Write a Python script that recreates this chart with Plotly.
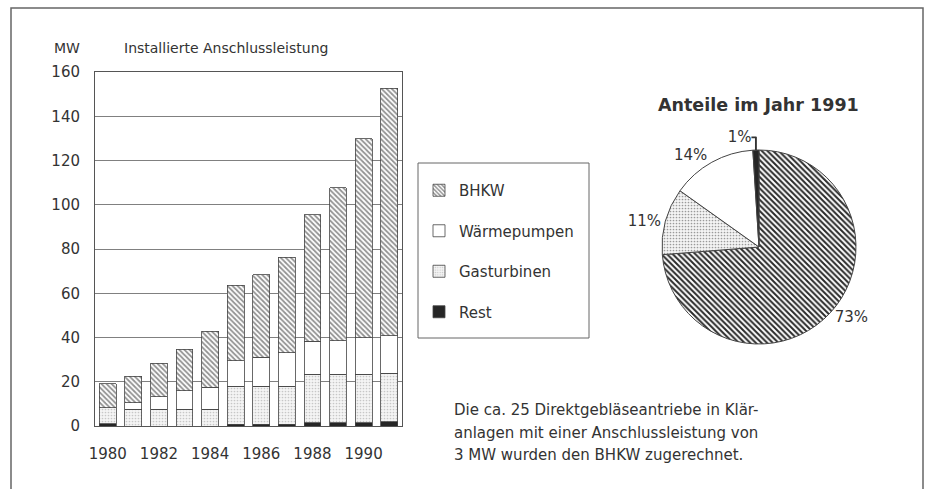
import plotly.graph_objects as go

W, H = 928, 489

years = [1980, 1981, 1982, 1983, 1984, 1985, 1986, 1987, 1988, 1989, 1990, 1991]
rest = [1.0, 0.0, 0.0, 0.0, 0.0, 0.8, 0.8, 0.8, 1.4, 1.4, 1.4, 2.0]
gasturbinen = [7.2, 7.5, 7.5, 7.5, 7.5, 17.2, 17.2, 17.2, 21.9, 21.9, 21.9, 21.8]
waermepumpen = [0.0, 3.0, 5.7, 8.5, 10.0, 11.5, 13.0, 15.0, 15.0, 15.2, 16.5, 17.0]
bhkw = [10.8, 12.1, 15.1, 18.7, 25.4, 34.1, 37.4, 43.2, 57.2, 69.1, 90.1, 111.9]

pie_labels = ["BHKW", "Gasturbinen", "Wärmepumpen", "Rest"]
pie_values = [73, 11, 14, 1]

x_ticks = [1980, 1982, 1984, 1986, 1988, 1990]
y_ticks = [0, 20, 40, 60, 80, 100, 120, 140, 160]

FONT = "DejaVu Sans"
TXT = "#333333"
EDGE = "#444444"
HATCH = dict(shape="\\", fgcolor="#262626", bgcolor="white", size=3.6, solidity=0.5)
DOTS = dict(shape=".", fgcolor="#9a9a9a", bgcolor="#f4f4f4", size=3, solidity=0.25)

def px(x):
    return x / W

def py(y):
    return 1 - y / H

fig = go.Figure()

fig.add_trace(go.Bar(
    x=years, y=rest, name="Rest", legendgroup="g4", legendrank=4,
    marker=dict(color="#262626", line=dict(color=EDGE, width=0.8)),
))
fig.add_trace(go.Bar(
    x=years, y=gasturbinen, name="Gasturbinen", legendgroup="g3", legendrank=3,
    marker=dict(color="#f2f2f2", line=dict(color=EDGE, width=0.8), pattern=DOTS),
))
fig.add_trace(go.Bar(
    x=years, y=waermepumpen, name="Wärmepumpen", legendgroup="g2", legendrank=2,
    marker=dict(color="white", line=dict(color=EDGE, width=0.8)),
))
fig.add_trace(go.Bar(
    x=years, y=bhkw, name="BHKW", legendgroup="g1", legendrank=1,
    marker=dict(color="white", line=dict(color=EDGE, width=0.8), pattern=HATCH),
))

fig.add_trace(go.Pie(
    labels=pie_labels, values=pie_values, sort=False, direction="clockwise", rotation=0,
    texttemplate="%{value}%", textposition="outside", showlegend=False,
    textfont=dict(family=FONT, size=15, color=TXT),
    marker=dict(
        colors=["white", "#f2f2f2", "white", "#262626"],
        line=dict(color=EDGE, width=1),
        pattern=dict(shape=["\\", ".", "", ""], fgcolor=["#2a2a2a", "#9a9a9a", "white", "#262626"],
                     bgcolor=["white", "#f4f4f4", "white", "#262626"], size=[4, 3, 4, 4],
                     solidity=[0.5, 0.25, 0.3, 0.3]),
    ),
    domain=dict(x=[px(662), px(856)], y=[py(344), py(150)]),
    hoverinfo="skip",
))

fig.update_layout(
    width=W, height=H,
    margin=dict(l=0, r=0, t=0, b=0, autoexpand=False),
    paper_bgcolor="white", plot_bgcolor="white",
    barmode="stack", bargap=0.34,
    font=dict(family=FONT, color=TXT, size=14),
    xaxis=dict(domain=[px(95), px(402)], range=[1979.5, 1991.5], tickvals=x_ticks,
               showgrid=False, zeroline=False, showline=True, mirror=True, linecolor="#555555",
               ticks="outside", ticklen=14, tickcolor="rgba(0,0,0,0)", automargin=False,
               tickfont=dict(family=FONT, size=15, color=TXT)),
    yaxis=dict(domain=[py(426), py(72)], range=[0, 160], tickvals=y_ticks,
               showgrid=True, gridcolor="#808080", gridwidth=1, zeroline=False,
               showline=True, mirror=True, linecolor="#555555",
               ticks="outside", ticklen=11, tickcolor="rgba(0,0,0,0)", automargin=False,
               tickfont=dict(family=FONT, size=15, color=TXT)),
    legend=dict(x=px(419), y=py(174), xanchor="left", yanchor="top",
                borderwidth=0, bgcolor="rgba(0,0,0,0)",
                traceorder="grouped", tracegroupgap=18,
                font=dict(family=FONT, size=15, color=TXT)),
    shapes=[
        dict(type="rect", xref="paper", yref="paper", x0=px(11), x1=px(923), y0=py(500), y1=py(8),
             line=dict(color="#666666", width=1.5)),
        dict(type="rect", xref="paper", yref="paper", x0=px(418), x1=px(589), y0=py(338), y1=py(163),
             line=dict(color="#666666", width=1)),
    ],
    annotations=[
        dict(text="MW", x=px(52), y=py(48), xref="paper", yref="paper", xanchor="left", yanchor="middle",
             showarrow=False, font=dict(size=14)),
        dict(text="Installierte Anschlussleistung", x=px(122), y=py(48), xref="paper", yref="paper",
             xanchor="left", yanchor="middle", showarrow=False, font=dict(size=14)),
        dict(text="<b>Anteile im Jahr 1991</b>", x=px(758), y=py(105), xref="paper", yref="paper",
             xanchor="center", yanchor="middle", showarrow=False, font=dict(size=17.5)),
        dict(text="Die ca. 25 Direktgebläseantriebe in Klär-", x=px(452), y=py(410), xref="paper", yref="paper",
             xanchor="left", yanchor="middle", showarrow=False, font=dict(size=15)),
        dict(text="anlagen mit einer Anschlussleistung von", x=px(452), y=py(432.5), xref="paper", yref="paper",
             xanchor="left", yanchor="middle", showarrow=False, font=dict(size=15)),
        dict(text="3 MW wurden den BHKW zugerechnet.", x=px(452), y=py(455), xref="paper", yref="paper",
             xanchor="left", yanchor="middle", showarrow=False, font=dict(size=15)),
    ],
)

fig.write_html("out.html", config={"displayModeBar": False},
               post_script="document.body.style.margin='0';")
